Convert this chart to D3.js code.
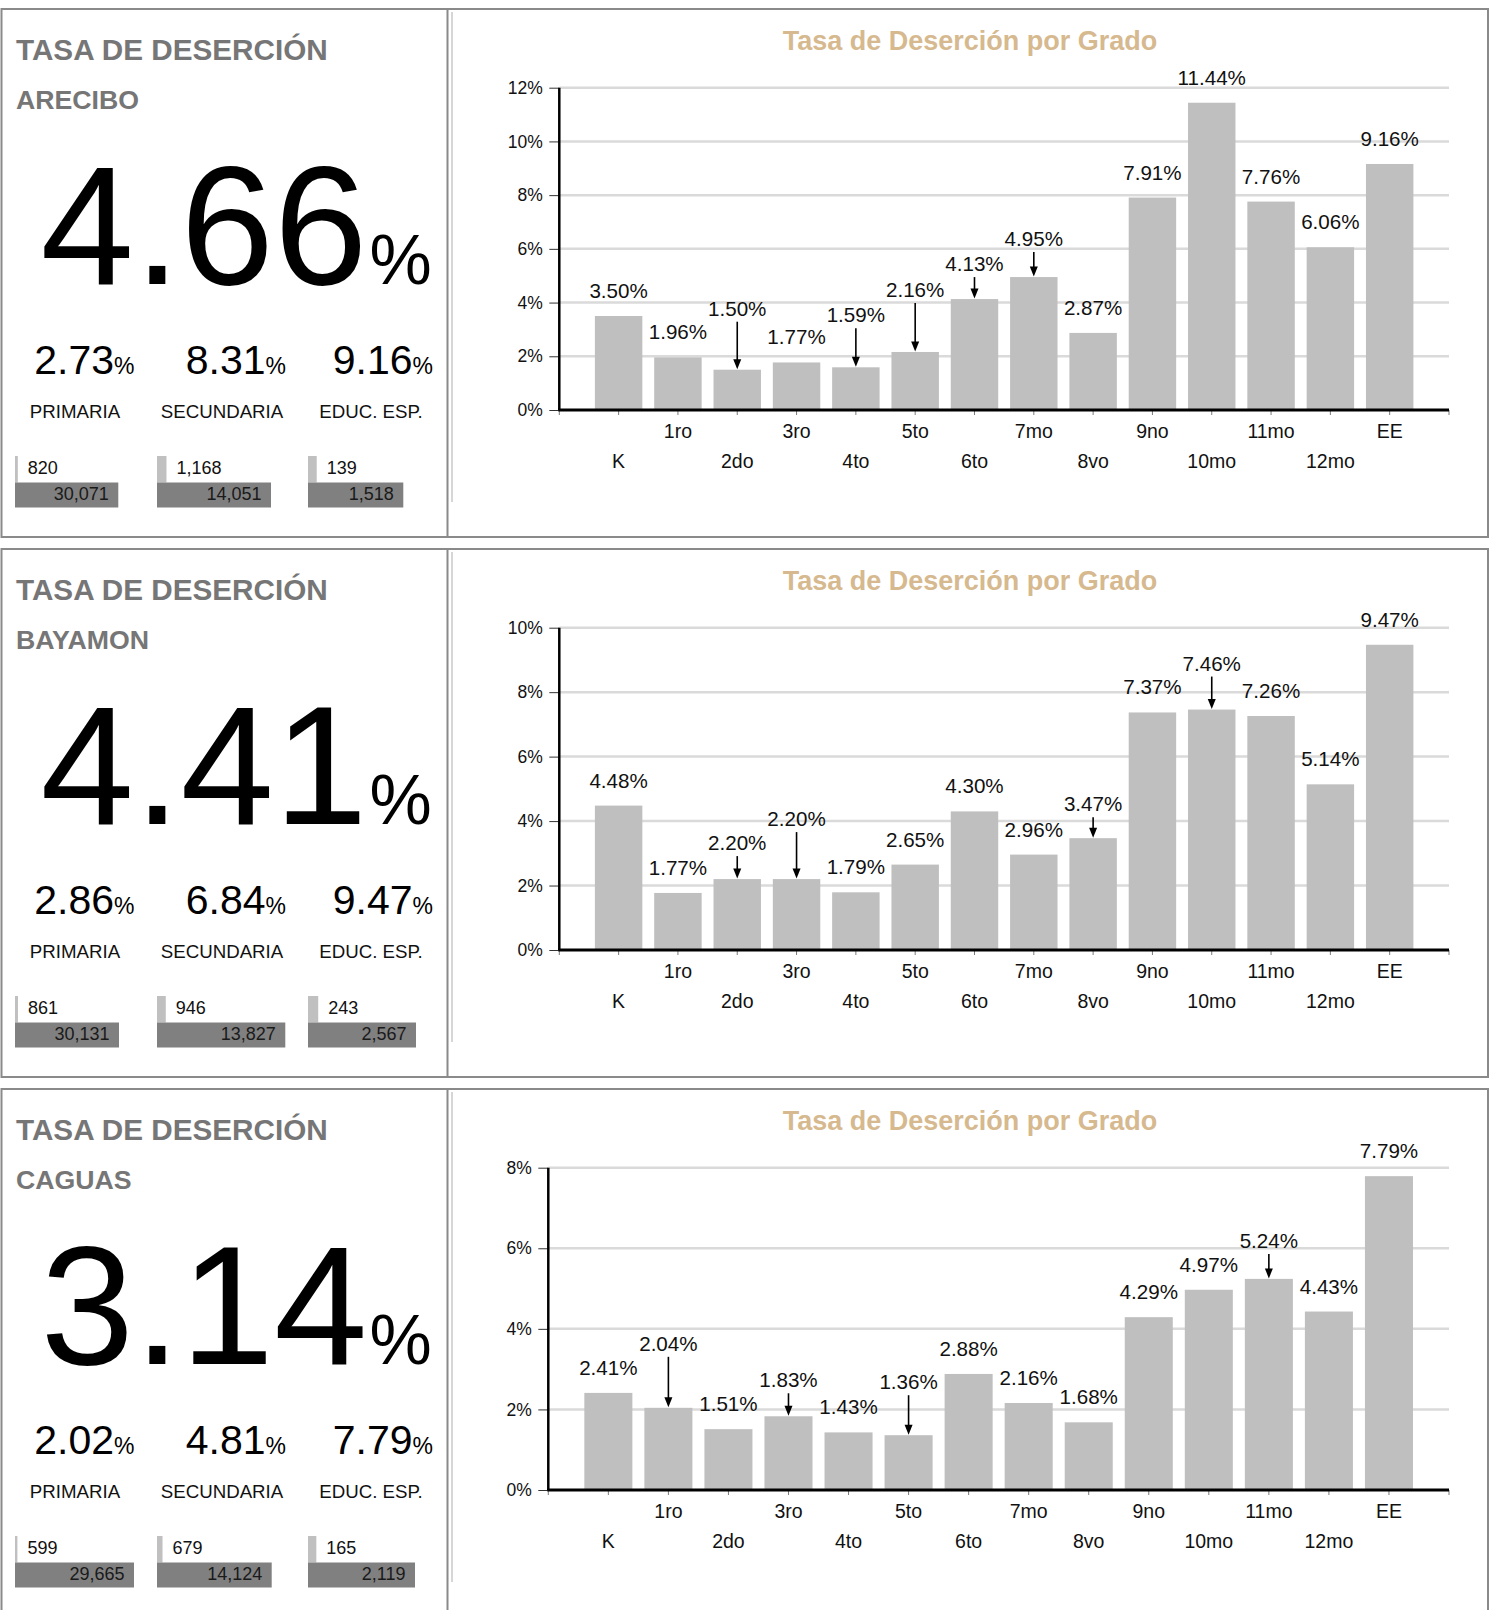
<!DOCTYPE html>
<html>
<head>
<meta charset="utf-8">
<script src="https://cdn.jsdelivr.net/npm/d3@7"></script>
<style>
  html, body { margin: 0; padding: 0; background: #ffffff; }
  svg { display: block; font-family: "Liberation Sans", Arial, sans-serif; }
</style>
</head>
<body>
<div id="chart"></div>
<script>
// ---------- DATA ----------
const regions = ["ARECIBO", "BAYAMON", "CAGUAS"];
const totalRates = [4.66, 4.41, 3.14];
const levelNames = ["PRIMARIA", "SECUNDARIA", "EDUC. ESP."];
const primariaRates = [2.73, 2.86, 2.02];
const secundariaRates = [8.31, 6.84, 4.81];
const educEspRates = [9.16, 9.47, 7.79];
const primariaDropouts = [820, 861, 599];
const primariaEnrolled = [30071, 30131, 29665];
const secundariaDropouts = [1168, 946, 679];
const secundariaEnrolled = [14051, 13827, 14124];
const educEspDropouts = [139, 243, 165];
const educEspEnrolled = [1518, 2567, 2119];

const grades = ["K", "1ro", "2do", "3ro", "4to", "5to", "6to", "7mo", "8vo", "9no", "10mo", "11mo", "12mo", "EE"];
const areciboByGrade = [3.50, 1.96, 1.50, 1.77, 1.59, 2.16, 4.13, 4.95, 2.87, 7.91, 11.44, 7.76, 6.06, 9.16];
const bayamonByGrade = [4.48, 1.77, 2.20, 2.20, 1.79, 2.65, 4.30, 2.96, 3.47, 7.37, 7.46, 7.26, 5.14, 9.47];
const caguasByGrade = [2.41, 2.04, 1.51, 1.83, 1.43, 1.36, 2.88, 2.16, 1.68, 4.29, 4.97, 5.24, 4.43, 7.79];
const yAxisMax = [12, 10, 8];
const chartTitle = "Tasa de Deserción por Grado";
const panelTitle = "TASA DE DESERCIÓN";

// ---------- LAYOUT (positions / sizes, not data) ----------
const W = 1492, H = 1610;
const panelTop0 = 9, panelPitch = 540, panelH = 528;
const axisLeft = [559.3, 559.3, 548.3];
const axisRight = 1449;
const plotTopOff = 78.7, plotBottomOff = 401;
const miniBarX = [15, 157, 308];
const miniBarW = [[103.3, 114, 95.3], [104, 128.3, 108], [119, 114.7, 107]];
const subNumRight = [134.5, 286, 433];
const levelLabelX = [75, 222, 371];
// label lift (px above bar top) for labels that use a pointer arrow
const arrowLift = [
  {2: 54, 4: 45, 5: 55, 6: 28, 7: 31},
  {2: 29, 3: 53, 8: 27, 10: 39},
  {1: 57, 3: 29, 5: 46, 11: 31}
];

const seriesByPanel = [areciboByGrade, bayamonByGrade, caguasByGrade];
const ratesByPanel = [0, 1, 2].map(i => [primariaRates[i], secundariaRates[i], educEspRates[i]]);
const dropByPanel = [0, 1, 2].map(i => [primariaDropouts[i], secundariaDropouts[i], educEspDropouts[i]]);
const enrByPanel = [0, 1, 2].map(i => [primariaEnrolled[i], secundariaEnrolled[i], educEspEnrolled[i]]);

const fmtInt = d3.format(",");
const fmtPct = d => d.toFixed(2) + "%";

const svg = d3.select("#chart").append("svg")
  .attr("width", W).attr("height", H);

const titleGray = "#767676";
const borderGray = "#8a8a8a";

regions.forEach((region, p) => {
  const top = panelTop0 + p * panelPitch;
  const g = svg.append("g");

  // panel frame
  g.append("rect")
    .attr("x", 1.5).attr("y", top)
    .attr("width", 1486.5).attr("height", panelH)
    .attr("fill", "#fff").attr("stroke", borderGray).attr("stroke-width", 2);
  g.append("line")
    .attr("x1", 447.5).attr("x2", 447.5).attr("y1", top).attr("y2", top + panelH)
    .attr("stroke", borderGray).attr("stroke-width", 2);
  g.append("line")
    .attr("x1", 452).attr("x2", 452).attr("y1", top + 3).attr("y2", top + 493)
    .attr("stroke", "#d6d6d6").attr("stroke-width", 2);

  // ---------- left panel ----------
  g.append("text").attr("x", 16).attr("y", top + 51)
    .attr("font-size", 29.7).attr("font-weight", "bold").attr("fill", titleGray)
    .text(panelTitle);
  g.append("text").attr("x", 16).attr("y", top + 100)
    .attr("font-size", 26.7).attr("font-weight", "bold").attr("fill", titleGray)
    .text(region);

  const big = g.append("text").attr("x", 40.5).attr("y", top + 275).attr("fill", "#000");
  big.append("tspan").attr("font-size", 168).text(totalRates[p].toFixed(2));
  big.append("tspan").attr("font-size", 70).attr("dx", 2).text("%");

  ratesByPanel[p].forEach((r, k) => {
    const t = g.append("text").attr("x", subNumRight[k]).attr("y", top + 365)
      .attr("text-anchor", "end").attr("fill", "#000");
    t.append("tspan").attr("font-size", 41).text(r.toFixed(2));
    t.append("tspan").attr("font-size", 23).text("%");

    g.append("text").attr("x", levelLabelX[k]).attr("y", top + 409)
      .attr("text-anchor", "middle").attr("font-size", 18.7).attr("fill", "#111")
      .text(levelNames[k]);

    const bx = miniBarX[k], bw = miniBarW[p][k];
    const lw = r / 100 * bw;
    g.append("rect").attr("x", bx).attr("y", top + 447)
      .attr("width", lw).attr("height", 26.5).attr("fill", "#c0c0c0");
    g.append("rect").attr("x", bx).attr("y", top + 473.5)
      .attr("width", bw).attr("height", 25).attr("fill", "#808080");
    g.append("text").attr("x", bx + lw + 10).attr("y", top + 465.3)
      .attr("font-size", 18).attr("fill", "#111")
      .text(fmtInt(dropByPanel[p][k]));
    g.append("text").attr("x", bx + bw - 9.5).attr("y", top + 491)
      .attr("text-anchor", "end").attr("font-size", 18).attr("fill", "#1a1a1a")
      .text(fmtInt(enrByPanel[p][k]));
  });

  // ---------- right panel: bar chart ----------
  const values = seriesByPanel[p];
  const x0 = axisLeft[p];
  const yBottom = top + plotBottomOff, yTop = top + plotTopOff;
  const x = d3.scalePoint().domain(grades).range([x0, axisRight]).padding(1);
  const y = d3.scaleLinear().domain([0, yAxisMax[p]]).range([yBottom, yTop]);
  const bw = x.step() * 0.8;
  const ticks = d3.range(0, yAxisMax[p] + 0.001, 2);

  g.append("text").attr("x", 970).attr("y", top + 41)
    .attr("text-anchor", "middle").attr("font-size", 27).attr("font-weight", "bold")
    .attr("fill", "#d6b98f").text(chartTitle);

  // gridlines
  g.append("g").selectAll("line").data(ticks.filter(t => t > 0)).join("line")
    .attr("x1", x0).attr("x2", axisRight)
    .attr("y1", d => y(d)).attr("y2", d => y(d))
    .attr("stroke", "#dadada").attr("stroke-width", 2.5);

  // bars
  g.append("g").selectAll("rect").data(values).join("rect")
    .attr("x", (d, i) => x(grades[i]) - bw / 2)
    .attr("y", d => y(d))
    .attr("width", bw)
    .attr("height", d => yBottom - y(d))
    .attr("fill", "#bfbfbf");

  // y axis
  const yAxis = d3.axisLeft(y).tickValues(ticks).tickSize(10).tickPadding(6.6)
    .tickFormat(d => d + "%");
  const ya = g.append("g").attr("transform", `translate(${x0},0)`).call(yAxis);
  ya.select(".domain").remove();
  ya.selectAll(".tick line").attr("stroke", "#333").attr("stroke-width", 1);
  ya.selectAll(".tick text").attr("font-size", 17.5).attr("fill", "#111")
    .attr("font-family", "'Liberation Sans', Arial, sans-serif");
  g.append("line").attr("x1", x0).attr("x2", x0).attr("y1", yTop).attr("y2", yBottom)
    .attr("stroke", "#000").attr("stroke-width", 2.5);

  // x axis ticks
  const xt = [x0].concat(grades.map(gr => x(gr))).concat([axisRight]);
  g.append("g").selectAll("line").data(xt).join("line")
    .attr("x1", d => d).attr("x2", d => d)
    .attr("y1", yBottom).attr("y2", yBottom + 5)
    .attr("stroke", "#7a7a7a").attr("stroke-width", 1);
  g.append("line").attr("x1", x0 - 1).attr("x2", axisRight).attr("y1", yBottom).attr("y2", yBottom)
    .attr("stroke", "#000").attr("stroke-width", 3);

  // x labels (staggered)
  g.append("g").selectAll("text").data(grades).join("text")
    .attr("x", d => x(d))
    .attr("y", (d, i) => yBottom + (i % 2 === 1 ? 28 : 58))
    .attr("text-anchor", "middle").attr("font-size", 19.5).attr("fill", "#111")
    .text(d => d);

  // value labels + arrows
  values.forEach((v, i) => {
    const cx = x(grades[i]);
    const barTop = y(v);
    const lift = arrowLift[p][i];
    const base = barTop - (lift !== undefined ? lift : 18);
    g.append("text").attr("x", cx).attr("y", base)
      .attr("text-anchor", "middle").attr("font-size", 20.6).attr("fill", "#111")
      .text(fmtPct(v));
    if (lift !== undefined) {
      g.append("line").attr("x1", cx).attr("x2", cx)
        .attr("y1", base + 6).attr("y2", barTop - 8)
        .attr("stroke", "#000").attr("stroke-width", 1.6);
      g.append("path")
        .attr("d", `M${cx - 4},${barTop - 10.5}L${cx + 4},${barTop - 10.5}L${cx},${barTop - 0.5}Z`)
        .attr("fill", "#000");
    }
  });
});
</script>
</body>
</html>
